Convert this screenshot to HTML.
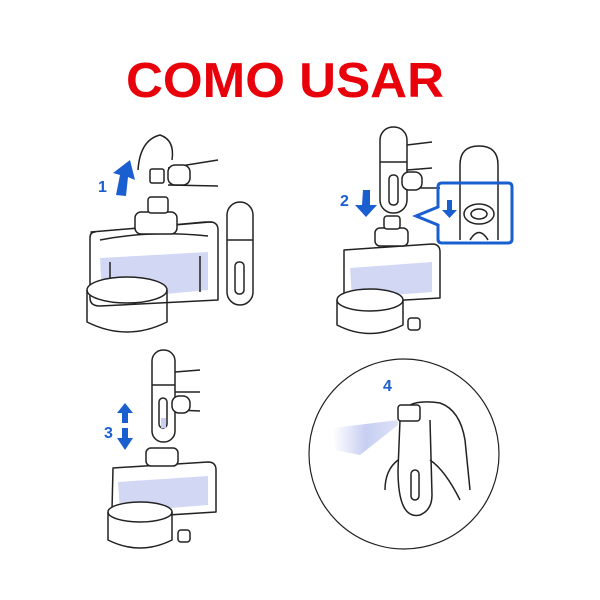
<!DOCTYPE html><html><head><style>body{margin:0;background:#fff}svg{display:block}</style></head><body>
<svg width="600" height="600" viewBox="0 0 600 600" xmlns="http://www.w3.org/2000/svg">
<text x="285" y="97" text-anchor="middle" font-family="Liberation Sans, sans-serif" font-weight="bold" font-size="49" fill="#e8000b" textLength="318" lengthAdjust="spacingAndGlyphs">COMO USAR</text>
<g fill="none" stroke="#222" stroke-width="1.5" stroke-linejoin="round">
<!-- Scene 1 -->
<path d="M95 232 L205 222 L212 222 L212 292 L100 300 Z"/>
<path d="M91 232 L210 222 Q218 222 218 230 L218 300 L100 306 Q90 306 90 298 L90 238 Q90 232 95 232 Z" fill="#fff"/>
<path d="M100 258 L208 252 L208 290 L102 300 Z" fill="#d2d8f4" stroke="none"/>
<path d="M100 240 Q150 230 208 236 M110 262 L110 300 M200 256 L200 292"/>
<rect x="135" y="212" width="42" height="22" rx="6" fill="#fff"/>
<rect x="148" y="197" width="20" height="16" rx="3" fill="#fff"/>
<ellipse cx="127" cy="290" rx="40" ry="13" fill="#fff"/>
<path d="M87 290 L87 322 Q127 342 167 322 L167 290"/>
<rect x="227" y="202" width="26" height="103" rx="13" fill="#fff"/>
<path d="M227 240 L253 240"/><rect x="235" y="262" width="9" height="32" rx="4"/>
<path d="M138 170 Q140 140 160 135 Q175 140 172 160 M168 168 L218 160 M168 185 L218 186"/>
<rect x="168" y="165" width="22" height="20" rx="7" fill="#fff"/>
<rect x="150" y="169" width="14" height="14" rx="2" fill="#fff"/>
<!-- Scene 2 -->
<path d="M344 250 L432 244 Q440 244 440 252 L440 298 L352 303 Q344 303 344 296 Z" fill="#fff"/>
<path d="M350 268 L432 262 L432 292 L352 298 Z" fill="#d2d8f4" stroke="none"/>
<rect x="375" y="228" width="33" height="18" rx="5" fill="#fff"/>
<rect x="384" y="216" width="16" height="13" rx="3" fill="#fff"/>
<ellipse cx="370" cy="300" rx="33" ry="11" fill="#fff"/>
<path d="M337 300 L337 325 Q370 342 403 325 L403 300"/>
<rect x="408" y="318" width="12" height="12" rx="3" fill="#fff"/>
<rect x="380" y="127" width="27" height="86" rx="13" fill="#fff"/>
<path d="M380 162 L407 162"/><rect x="389" y="175" width="9" height="30" rx="4"/>
<path d="M407 145 L432 142 M407 170 L432 168 M410 188 L440 188"/>
<rect x="402" y="172" width="20" height="18" rx="7" fill="#fff"/>
<path d="M460 240 L460 165 Q460 146 479 146 Q498 146 498 165 L498 240"/>
<ellipse cx="479" cy="214" rx="15" ry="10" fill="#fff"/><ellipse cx="479" cy="214" rx="8" ry="5"/>
<path d="M470 240 Q479 225 488 240"/>
<!-- Scene 3 -->
<path d="M113 468 L208 462 Q216 462 216 470 L216 512 L120 518 Q112 518 112 510 Z" fill="#fff"/>
<path d="M118 482 L208 476 L208 505 L120 512 Z" fill="#d2d8f4" stroke="none"/>
<rect x="146" y="448" width="32" height="18" rx="5" fill="#fff"/>
<ellipse cx="140" cy="512" rx="32" ry="10" fill="#fff"/>
<path d="M108 512 L108 540 Q140 556 172 540 L172 512"/>
<rect x="178" y="530" width="12" height="12" rx="3" fill="#fff"/>
<rect x="152" y="350" width="23" height="92" rx="11" fill="#fff"/>
<path d="M152 385 L175 385"/><rect x="159" y="398" width="8" height="30" rx="4"/>
<rect x="161" y="418" width="5" height="10" fill="#c7cff2" stroke="none"/>
<path d="M175 372 L200 370 M175 392 L200 392 M178 410 L200 411"/>
<rect x="172" y="396" width="18" height="17" rx="7" fill="#fff"/>
<!-- Scene 4 -->
<circle cx="404" cy="454" r="95" stroke-width="1.2"/>
<path d="M400 420 L398 470 Q398 520 420 515 Q432 510 432 495 L430 420"/>
<rect x="398" y="405" width="22" height="16" rx="3" fill="#fff"/>
<path d="M410 405 Q420 400 440 403 Q460 410 465 440 L470 490 M430 460 Q445 470 460 500 M398 460 Q385 470 385 490"/>
<rect x="411" y="470" width="8" height="30" rx="4"/>
</g>
<defs><linearGradient id="sp" x1="0" x2="1"><stop offset="0" stop-color="#c7cff2" stop-opacity="0"/><stop offset="0.5" stop-color="#c7cff2"/><stop offset="1" stop-color="#dde2f7"/></linearGradient></defs>
<path d="M333 428 L398 420 L398 425 L360 455 L335 450 Z" fill="url(#sp)"/>
<g fill="#1a5fd0" font-family="Liberation Sans, sans-serif" font-weight="bold" font-size="16">
<text x="98" y="192">1</text><text x="340" y="206">2</text><text x="104" y="438">3</text><text x="383" y="391">4</text>
<path d="M116 195 L120 175 L113 173 L130 160 L135 180 L128 177 L126 196 Z"/>
<path d="M363 190 L370 190 L370 205 L377 205 L366 217 L355 205 L362 205 Z"/>
<path d="M447 200 L452 200 L452 210 L457 210 L449.5 218 L442 210 L447 210 Z"/>
<path d="M125 403 L133 413 L128 413 L128 423 L122 423 L122 413 L117 413 Z M122 428 L128 428 L128 438 L133 438 L125 450 L117 438 L122 438 Z"/>
</g>
<path d="M442 183 L508 183 Q512 183 512 187 L512 239 Q512 243 508 243 L442 243 Q438 243 438 239 L438 225 L416 216 L438 207 L438 187 Q438 183 442 183 Z" fill="none" stroke="#1a5fd0" stroke-width="3"/>
</svg>
</body></html>
